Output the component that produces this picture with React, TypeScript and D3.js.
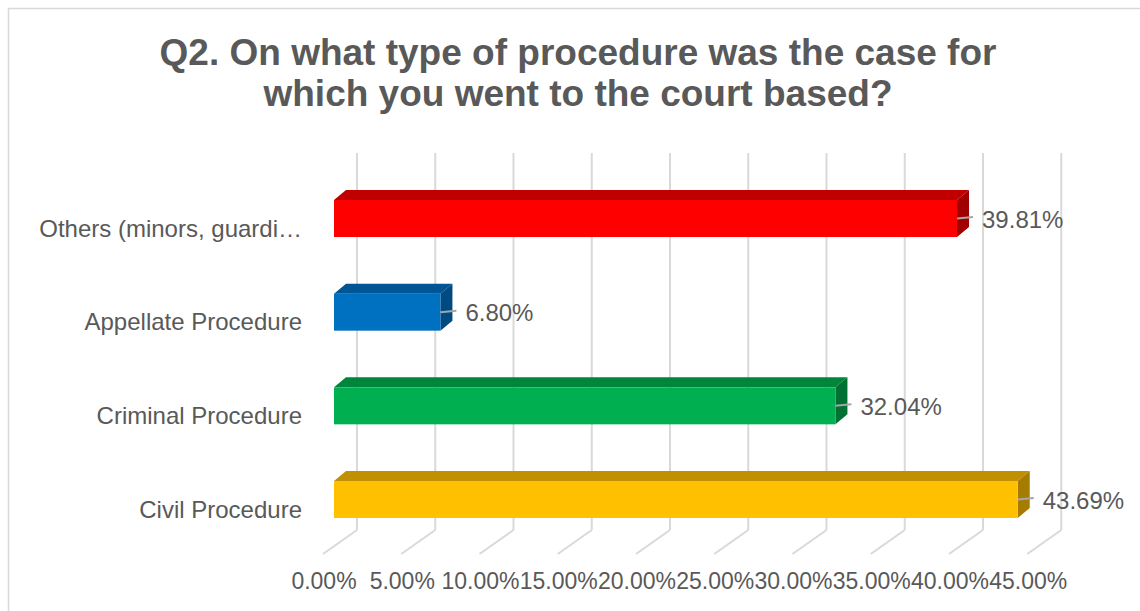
import React from "react";
import * as d3 from "d3";

const categories = [
  "Others (minors, guardi…",
  "Appellate Procedure",
  "Criminal Procedure",
  "Civil Procedure",
];
const values = [39.81, 6.8, 32.04, 43.69];
const valueLabels = ["39.81%", "6.80%", "32.04%", "43.69%"];
const tickValues = [0, 5, 10, 15, 20, 25, 30, 35, 40, 45];
const tickLabels = ["0.00%", "5.00%", "10.00%", "15.00%", "20.00%", "25.00%", "30.00%", "35.00%", "40.00%", "45.00%"];
const frontColors = ["#FF0000", "#0070C0", "#00B050", "#FFC000"];
const topColors = ["#C00000", "#005595", "#00853C", "#C09000"];
const sideColors = ["#A00000", "#004A82", "#007033", "#A67C00"];
const titleLines = [
  "Q2. On what type of procedure was the case for",
  "which you went to the court based?",
];

const W = 1140;
const H = 611;
const FONT = "'Liberation Sans', Arial, sans-serif";
const TXT = "#595959";

export default function App() {
  const x = d3.scaleLinear().domain([0, 45]).range([334, 334 + 45 * 15.65]);
  const y = d3.scalePoint<string>().domain(categories).range([218.5, 499.5]);
  const barH = 37;
  const dX = 12; // bar depth x
  const dY = 10; // bar depth y
  const backX = 23; // back wall offset from front plane
  const floorFrontX = -10;
  const gridTop = 153;
  const gridBottom = 530;
  const floorDx = -34;
  const floorDy = 24;

  return (
    <svg
      width={W}
      height={H}
      style={{ position: "absolute", left: 0, top: 0, display: "block", background: "#fff" }}
      fontFamily={FONT}
    >
      <rect x={8.5} y={8.5} width={W + 20} height={H + 20} fill="#fff" stroke="#d9d9d9" strokeWidth={1.5} />
      {titleLines.map((t, i) => (
        <text
          key={i}
          x={578}
          y={65 + i * 41}
          textAnchor="middle"
          fontWeight="bold"
          fontSize={37}
          fill={TXT}
        >
          {t}
        </text>
      ))}
      {/* gridlines on back wall and floor */}
      {tickValues.map((v, i) => {
        const bx = x(v) + backX;
        return (
          <g key={i}>
            <line x1={bx} x2={bx} y1={gridTop} y2={gridBottom} stroke="#d9d9d9" strokeWidth={2} />
            <line x1={bx} x2={bx + floorDx} y1={gridBottom} y2={gridBottom + floorDy} stroke="#d9d9d9" strokeWidth={2} />
            <text
              x={x(v) + floorFrontX}
              y={589}
              textAnchor="middle"
              fontSize={23}
              fill={TXT}
            >
              {tickLabels[i]}
            </text>
          </g>
        );
      })}
      {/* bars */}
      {categories.map((c, i) => {
        const cy = y(c) as number;
        const yt = cy - barH / 2;
        const yb = cy + barH / 2;
        const x0 = x(0);
        const x1 = x(values[i]);
        const topPts = [
          [x0, yt],
          [x0 + dX, yt - dY],
          [x1 + dX, yt - dY],
          [x1, yt],
        ];
        const sidePts = [
          [x1, yt],
          [x1 + dX, yt - dY],
          [x1 + dX, yb - dY],
          [x1, yb],
        ];
        return (
          <g key={c}>
            <polygon points={topPts.map((p) => p.join(",")).join(" ")} fill={topColors[i]} />
            <polygon points={sidePts.map((p) => p.join(",")).join(" ")} fill={sideColors[i]} />
            <rect x={x0} y={yt} width={x1 - x0} height={barH} fill={frontColors[i]} />
            <line x1={x1} x2={x1 + 16} y1={cy} y2={cy - 1.5} stroke="#a6a6a6" strokeWidth={2} />
            <text x={x1 + 25} y={cy + 9} fontSize={24} fill={TXT}>
              {valueLabels[i]}
            </text>
            <text x={302} y={cy + 18} textAnchor="end" fontSize={24} fill={TXT}>
              {c}
            </text>
          </g>
        );
      })}
    </svg>
  );
}
